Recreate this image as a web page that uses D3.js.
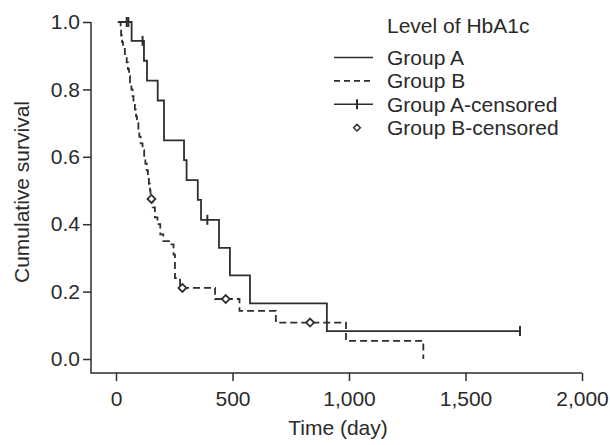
<!DOCTYPE html>
<html>
<head>
<meta charset="utf-8">
<script src="https://cdn.jsdelivr.net/npm/d3@7"></script>
<style>
  body { margin: 0; background: #fff; }
  text { font-family: "Liberation Sans", Arial, sans-serif; fill: #2a2a2a; }
</style>
</head>
<body>
<div id="chart"></div>
<script>
// Kaplan-Meier steps: [day, survival after that day]
const groupA = [
  [8, 1.0], [67, 0.944], [120, 0.885], [133, 0.826], [179, 0.767],
  [206, 0.649], [292, 0.590], [303, 0.531], [351, 0.472], [365, 0.413],
  [442, 0.330], [489, 0.248], [575, 0.165], [905, 0.083], [1734, 0.083]
]
const groupB = [
  [8, 1.0], [20, 0.98], [22, 0.96], [26, 0.94], [30, 0.92], [38, 0.90],
  [46, 0.88], [51, 0.86], [56, 0.84], [60, 0.82], [66, 0.80], [71, 0.78],
  [75, 0.76], [81, 0.74], [86, 0.72], [90, 0.70], [96, 0.68], [100, 0.66],
  [106, 0.64], [114, 0.62], [121, 0.60], [126, 0.58], [132, 0.56],
  [137, 0.54], [141, 0.52], [146, 0.50], [148, 0.475], [157, 0.45],
  [167, 0.42], [178, 0.40], [190, 0.37], [203, 0.35], [238, 0.34],
  [247, 0.31], [253, 0.24], [275, 0.211], [425, 0.178], [530, 0.143],
  [686, 0.108], [987, 0.054], [1319, 0.0]
]
const censoredA = [[46, 1.0], [53, 1.0], [114, 0.944], [392, 0.413], [1734, 0.083]]
const censoredB = [[152, 0.475], [285, 0.211], [471, 0.178], [833, 0.108]]
const xTicks = [0, 500, 1000, 1500, 2000]
const yTicks = [0, 0.2, 0.4, 0.6, 0.8, 1.0]
const legendLabels = ["Group A", "Group B", "Group A-censored", "Group B-censored"]

const width = 610
const height = 445
const ink = "#2e2e2e"
const fontSize = "21px"

const svg = d3.select("#chart").append("svg")
  .attr("width", width)
  .attr("height", height)

const x = d3.scaleLinear().domain([0, 2000]).range([116, 582])
const y = d3.scaleLinear().domain([0, 1]).range([359, 22])
const axisX0 = 91
const axisY0 = 373

// axes
const yAxis = svg.append("g")
  .attr("transform", `translate(${axisX0},0)`)
  .call(d3.axisLeft(y).tickValues(yTicks).tickSize(8).tickPadding(3).tickFormat(d3.format(".1f")))
yAxis.select(".domain").remove()

const xAxis = svg.append("g")
  .attr("transform", `translate(0,${axisY0})`)
  .call(d3.axisBottom(x).tickValues(xTicks).tickSize(8).tickPadding(10).tickFormat(d3.format(",")))
xAxis.select(".domain").remove()

svg.selectAll(".tick line").attr("stroke", ink).attr("stroke-width", 1.5)
svg.selectAll(".tick text").style("font-size", fontSize).attr("fill", "#2a2a2a")

svg.append("path")
  .attr("d", `M${axisX0},${y(1)}V${axisY0}H${x(2000)}`)
  .attr("fill", "none")
  .attr("stroke", ink)
  .attr("stroke-width", 1.5)

svg.append("text")
  .attr("x", 338)
  .attr("y", 435)
  .attr("text-anchor", "middle")
  .style("font-size", fontSize)
  .text("Time (day)")

svg.append("text")
  .attr("transform", "translate(29,192) rotate(-90)")
  .attr("text-anchor", "middle")
  .style("font-size", fontSize)
  .text("Cumulative survival")

// curves
const line = d3.line()
  .x(d => x(d[0]))
  .y(d => y(d[1]))
  .curve(d3.curveStepAfter)

svg.append("path")
  .datum(groupA)
  .attr("d", line)
  .attr("fill", "none")
  .attr("stroke", ink)
  .attr("stroke-width", 1.8)

svg.append("path")
  .datum(groupB)
  .attr("d", line)
  .attr("fill", "none")
  .attr("stroke", ink)
  .attr("stroke-width", 1.8)
  .attr("stroke-dasharray", "7,4")

// censor marks
svg.selectAll(".censA")
  .data(censoredA)
  .enter()
  .append("path")
    .attr("class", "censA")
    .attr("d", d => `M${x(d[0])},${y(d[1]) - 5}V${y(d[1]) + 5}`)
    .attr("stroke", ink)
    .attr("stroke-width", 2)

const diamond = d3.symbol().type(d3.symbolDiamond2).size(40)
svg.selectAll(".censB")
  .data(censoredB)
  .enter()
  .append("path")
    .attr("class", "censB")
    .attr("d", diamond)
    .attr("transform", d => `translate(${x(d[0])},${y(d[1])})`)
    .attr("fill", "#fff")
    .attr("stroke", ink)
    .attr("stroke-width", 1.8)

// legend
const legend = svg.append("g").attr("transform", "translate(334,0)")
legend.append("text")
  .attr("x", 53)
  .attr("y", 33)
  .style("font-size", fontSize)
  .text("Level of HbA1c")

const rows = legend.selectAll(".row")
  .data(legendLabels)
  .enter()
  .append("g")
    .attr("class", "row")
    .attr("transform", (d, i) => `translate(0,${57.5 + i * 23.4})`)

rows.append("text")
  .attr("x", 53)
  .attr("dy", "0.35em")
  .style("font-size", fontSize)
  .text(d => d)

rows.filter((d, i) => i < 3).append("line")
  .attr("x1", 0)
  .attr("x2", 39)
  .attr("stroke", ink)
  .attr("stroke-width", 1.6)
  .attr("stroke-dasharray", (d, i) => i === 1 ? "6,4" : null)

rows.filter((d, i) => i === 2).append("line")
  .attr("x1", 23).attr("x2", 23)
  .attr("y1", -5).attr("y2", 5)
  .attr("stroke", ink)
  .attr("stroke-width", 2)

rows.filter((d, i) => i === 3).append("path")
  .attr("d", d3.symbol().type(d3.symbolDiamond2).size(28))
  .attr("transform", "translate(23,0)")
  .attr("fill", "#fff")
  .attr("stroke", ink)
  .attr("stroke-width", 1.5)
</script>
</body>
</html>
